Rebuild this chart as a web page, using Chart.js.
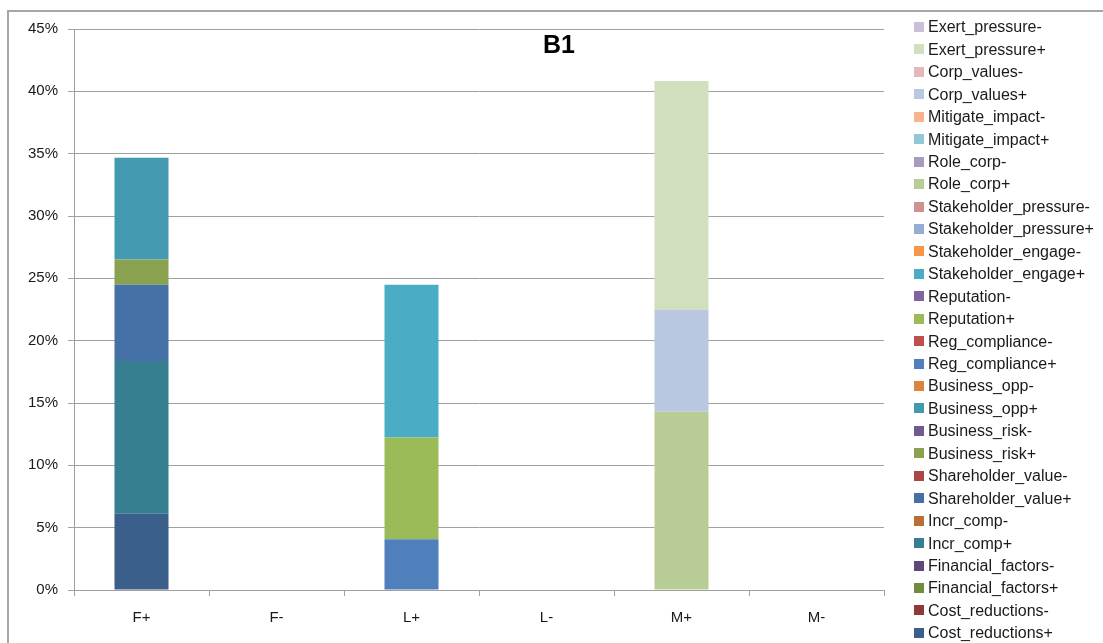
<!DOCTYPE html>
<html>
<head>
<meta charset="utf-8">
<script src="https://cdn.jsdelivr.net/npm/chart.js@4/dist/chart.umd.min.js"></script>
<style>
  html, body { margin: 0; padding: 0; background: #ffffff; }
  #wrap { width: 1103px; height: 643px; position: relative; }
</style>
</head>
<body>
<div id="wrap"><canvas id="c" width="1103" height="643"></canvas></div>
<script>
// Response groups along the x axis
const categories = ['F+', 'F-', 'L+', 'L-', 'M+', 'M-'];

// Share of responses (%) for each motive, per group
const costReductionsPos     = [6.12, 0, 0, 0, 0, 0];
const costReductionsNeg     = [0, 0, 0, 0, 0, 0];
const financialFactorsPos   = [0, 0, 0, 0, 0, 0];
const financialFactorsNeg   = [0, 0, 0, 0, 0, 0];
const incrCompPos           = [12.24, 0, 0, 0, 0, 0];
const incrCompNeg           = [0, 0, 0, 0, 0, 0];
const shareholderValuePos   = [6.12, 0, 0, 0, 0, 0];
const shareholderValueNeg   = [0, 0, 0, 0, 0, 0];
const businessRiskPos       = [2.04, 0, 0, 0, 0, 0];
const businessRiskNeg       = [0, 0, 0, 0, 0, 0];
const businessOppPos        = [8.16, 0, 0, 0, 0, 0];
const businessOppNeg        = [0, 0, 0, 0, 0, 0];
const regCompliancePos      = [0, 0, 4.08, 0, 0, 0];
const regComplianceNeg      = [0, 0, 0, 0, 0, 0];
const reputationPos         = [0, 0, 8.16, 0, 0, 0];
const reputationNeg         = [0, 0, 0, 0, 0, 0];
const stakeholderEngagePos  = [0, 0, 12.24, 0, 0, 0];
const stakeholderEngageNeg  = [0, 0, 0, 0, 0, 0];
const stakeholderPressurePos= [0, 0, 0, 0, 0, 0];
const stakeholderPressureNeg= [0, 0, 0, 0, 0, 0];
const roleCorpPos           = [0, 0, 0, 0, 14.29, 0];
const roleCorpNeg           = [0, 0, 0, 0, 0, 0];
const mitigateImpactPos     = [0, 0, 0, 0, 0, 0];
const mitigateImpactNeg     = [0, 0, 0, 0, 0, 0];
const corpValuesPos         = [0, 0, 0, 0, 8.16, 0];
const corpValuesNeg         = [0, 0, 0, 0, 0, 0];
const exertPressurePos      = [0, 0, 0, 0, 18.37, 0];
const exertPressureNeg      = [0, 0, 0, 0, 0, 0];

// Y axis tick values (%)
const yTicks = [0, 5, 10, 15, 20, 25, 30, 35, 40, 45];
const chartTitle = 'B1';

// Series in stacking order (bottom first)
const seriesList = [
  ['Cost_reductions+',      costReductionsPos,      '#3a5f8b'],
  ['Cost_reductions-',      costReductionsNeg,      '#8e3b38'],
  ['Financial_factors+',    financialFactorsPos,    '#718c3c'],
  ['Financial_factors-',    financialFactorsNeg,    '#5d4878'],
  ['Incr_comp+',            incrCompPos,            '#357f90'],
  ['Incr_comp-',            incrCompNeg,            '#b86e35'],
  ['Shareholder_value+',    shareholderValuePos,    '#4470a6'],
  ['Shareholder_value-',    shareholderValueNeg,    '#a94744'],
  ['Business_risk+',        businessRiskPos,        '#8aa250'],
  ['Business_risk-',        businessRiskNeg,        '#72598f'],
  ['Business_opp+',         businessOppPos,         '#4299b0'],
  ['Business_opp-',         businessOppNeg,         '#db843d'],
  ['Reg_compliance+',       regCompliancePos,       '#4f80bc'],
  ['Reg_compliance-',       regComplianceNeg,       '#c0504d'],
  ['Reputation+',           reputationPos,          '#9bbb59'],
  ['Reputation-',           reputationNeg,          '#8064a2'],
  ['Stakeholder_engage+',   stakeholderEngagePos,   '#4bacc6'],
  ['Stakeholder_engage-',   stakeholderEngageNeg,   '#f79646'],
  ['Stakeholder_pressure+', stakeholderPressurePos, '#95acd4'],
  ['Stakeholder_pressure-', stakeholderPressureNeg, '#d09191'],
  ['Role_corp+',            roleCorpPos,            '#b8cd96'],
  ['Role_corp-',            roleCorpNeg,            '#a99bbd'],
  ['Mitigate_impact+',      mitigateImpactPos,      '#93c6d6'],
  ['Mitigate_impact-',      mitigateImpactNeg,      '#f9b48f'],
  ['Corp_values+',          corpValuesPos,          '#b9c7e0'],
  ['Corp_values-',          corpValuesNeg,          '#e5b9b8'],
  ['Exert_pressure+',       exertPressurePos,       '#d1dfbe'],
  ['Exert_pressure-',       exertPressureNeg,       '#cbc0da']
];

const FONT = '"Liberation Sans", Arial, sans-serif';
const TEXT = '#1a1a1a';
const GRID = '#a0a0a0';

// Outer frame, overlay title and right-hand legend
const decorations = {
  id: 'decorations',
  beforeDraw(chart) {
    const ctx = chart.ctx;
    ctx.save();
    ctx.fillStyle = '#ffffff';
    ctx.fillRect(0, 0, chart.width, chart.height);
    ctx.strokeStyle = '#a6a6a6';
    ctx.lineWidth = 2;
    ctx.beginPath();
    ctx.moveTo(8, chart.height);
    ctx.lineTo(8, 11);
    ctx.lineTo(chart.width, 11);
    ctx.stroke();
    ctx.restore();
  },
  afterDraw(chart) {
    const ctx = chart.ctx;
    ctx.save();
    // title
    ctx.fillStyle = '#000000';
    ctx.font = 'bold 25px ' + FONT;
    ctx.textAlign = 'center';
    ctx.textBaseline = 'middle';
    ctx.fillText(chartTitle, 559, 46);

    // legend, last series on top
    const ds = chart.data.datasets;
    const x0 = 914, textX = 928, y0 = 27, step = 22.44, box = 10;
    ctx.font = '16px ' + FONT;
    ctx.textAlign = 'left';
    ctx.textBaseline = 'middle';
    for (let i = 0; i < ds.length; i++) {
      const d = ds[ds.length - 1 - i];
      const y = y0 + i * step;
      ctx.fillStyle = d.backgroundColor;
      ctx.fillRect(x0, Math.round(y - box / 2), box, box);
      ctx.fillStyle = TEXT;
      ctx.fillText(d.label, textX, y + 1);
    }
    ctx.restore();
  }
};

new Chart(document.getElementById('c'), {
  type: 'bar',
  data: {
    labels: categories,
    datasets: seriesList.map(([label, data, color]) => ({
      label,
      data,
      backgroundColor: color,
      borderWidth: 0,
      categoryPercentage: 1.0,
      barPercentage: 0.4
    }))
  },
  options: {
    responsive: false,
    animation: false,
    devicePixelRatio: 1,
    layout: { padding: { left: 0, right: 219, top: 29, bottom: 0 } },
    plugins: {
      legend: { display: false },
      title: { display: false },
      tooltip: { enabled: false }
    },
    scales: {
      x: {
        stacked: true,
        grid: {
          drawOnChartArea: false,
          drawTicks: true,
          tickLength: 6,
          color: GRID,
          offset: true
        },
        border: { display: true, color: GRID, width: 1 },
        ticks: {
          color: TEXT,
          font: { family: FONT, size: 15 },
          padding: 13,
          maxRotation: 0
        },
        afterFit(scale) { scale.height = 53; }
      },
      y: {
        stacked: true,
        min: 0,
        max: 45,
        afterBuildTicks(scale) {
          scale.ticks = yTicks.map(v => ({ value: v }));
        },
        grid: {
          color: GRID,
          lineWidth: 1,
          drawTicks: true,
          tickLength: 6
        },
        border: { display: true, color: GRID, width: 1 },
        ticks: {
          color: TEXT,
          font: { family: FONT, size: 15 },
          padding: 10,
          callback: v => v + '%'
        },
        afterFit(scale) { scale.width = 74; }
      }
    }
  },
  plugins: [decorations]
});
</script>
</body>
</html>
